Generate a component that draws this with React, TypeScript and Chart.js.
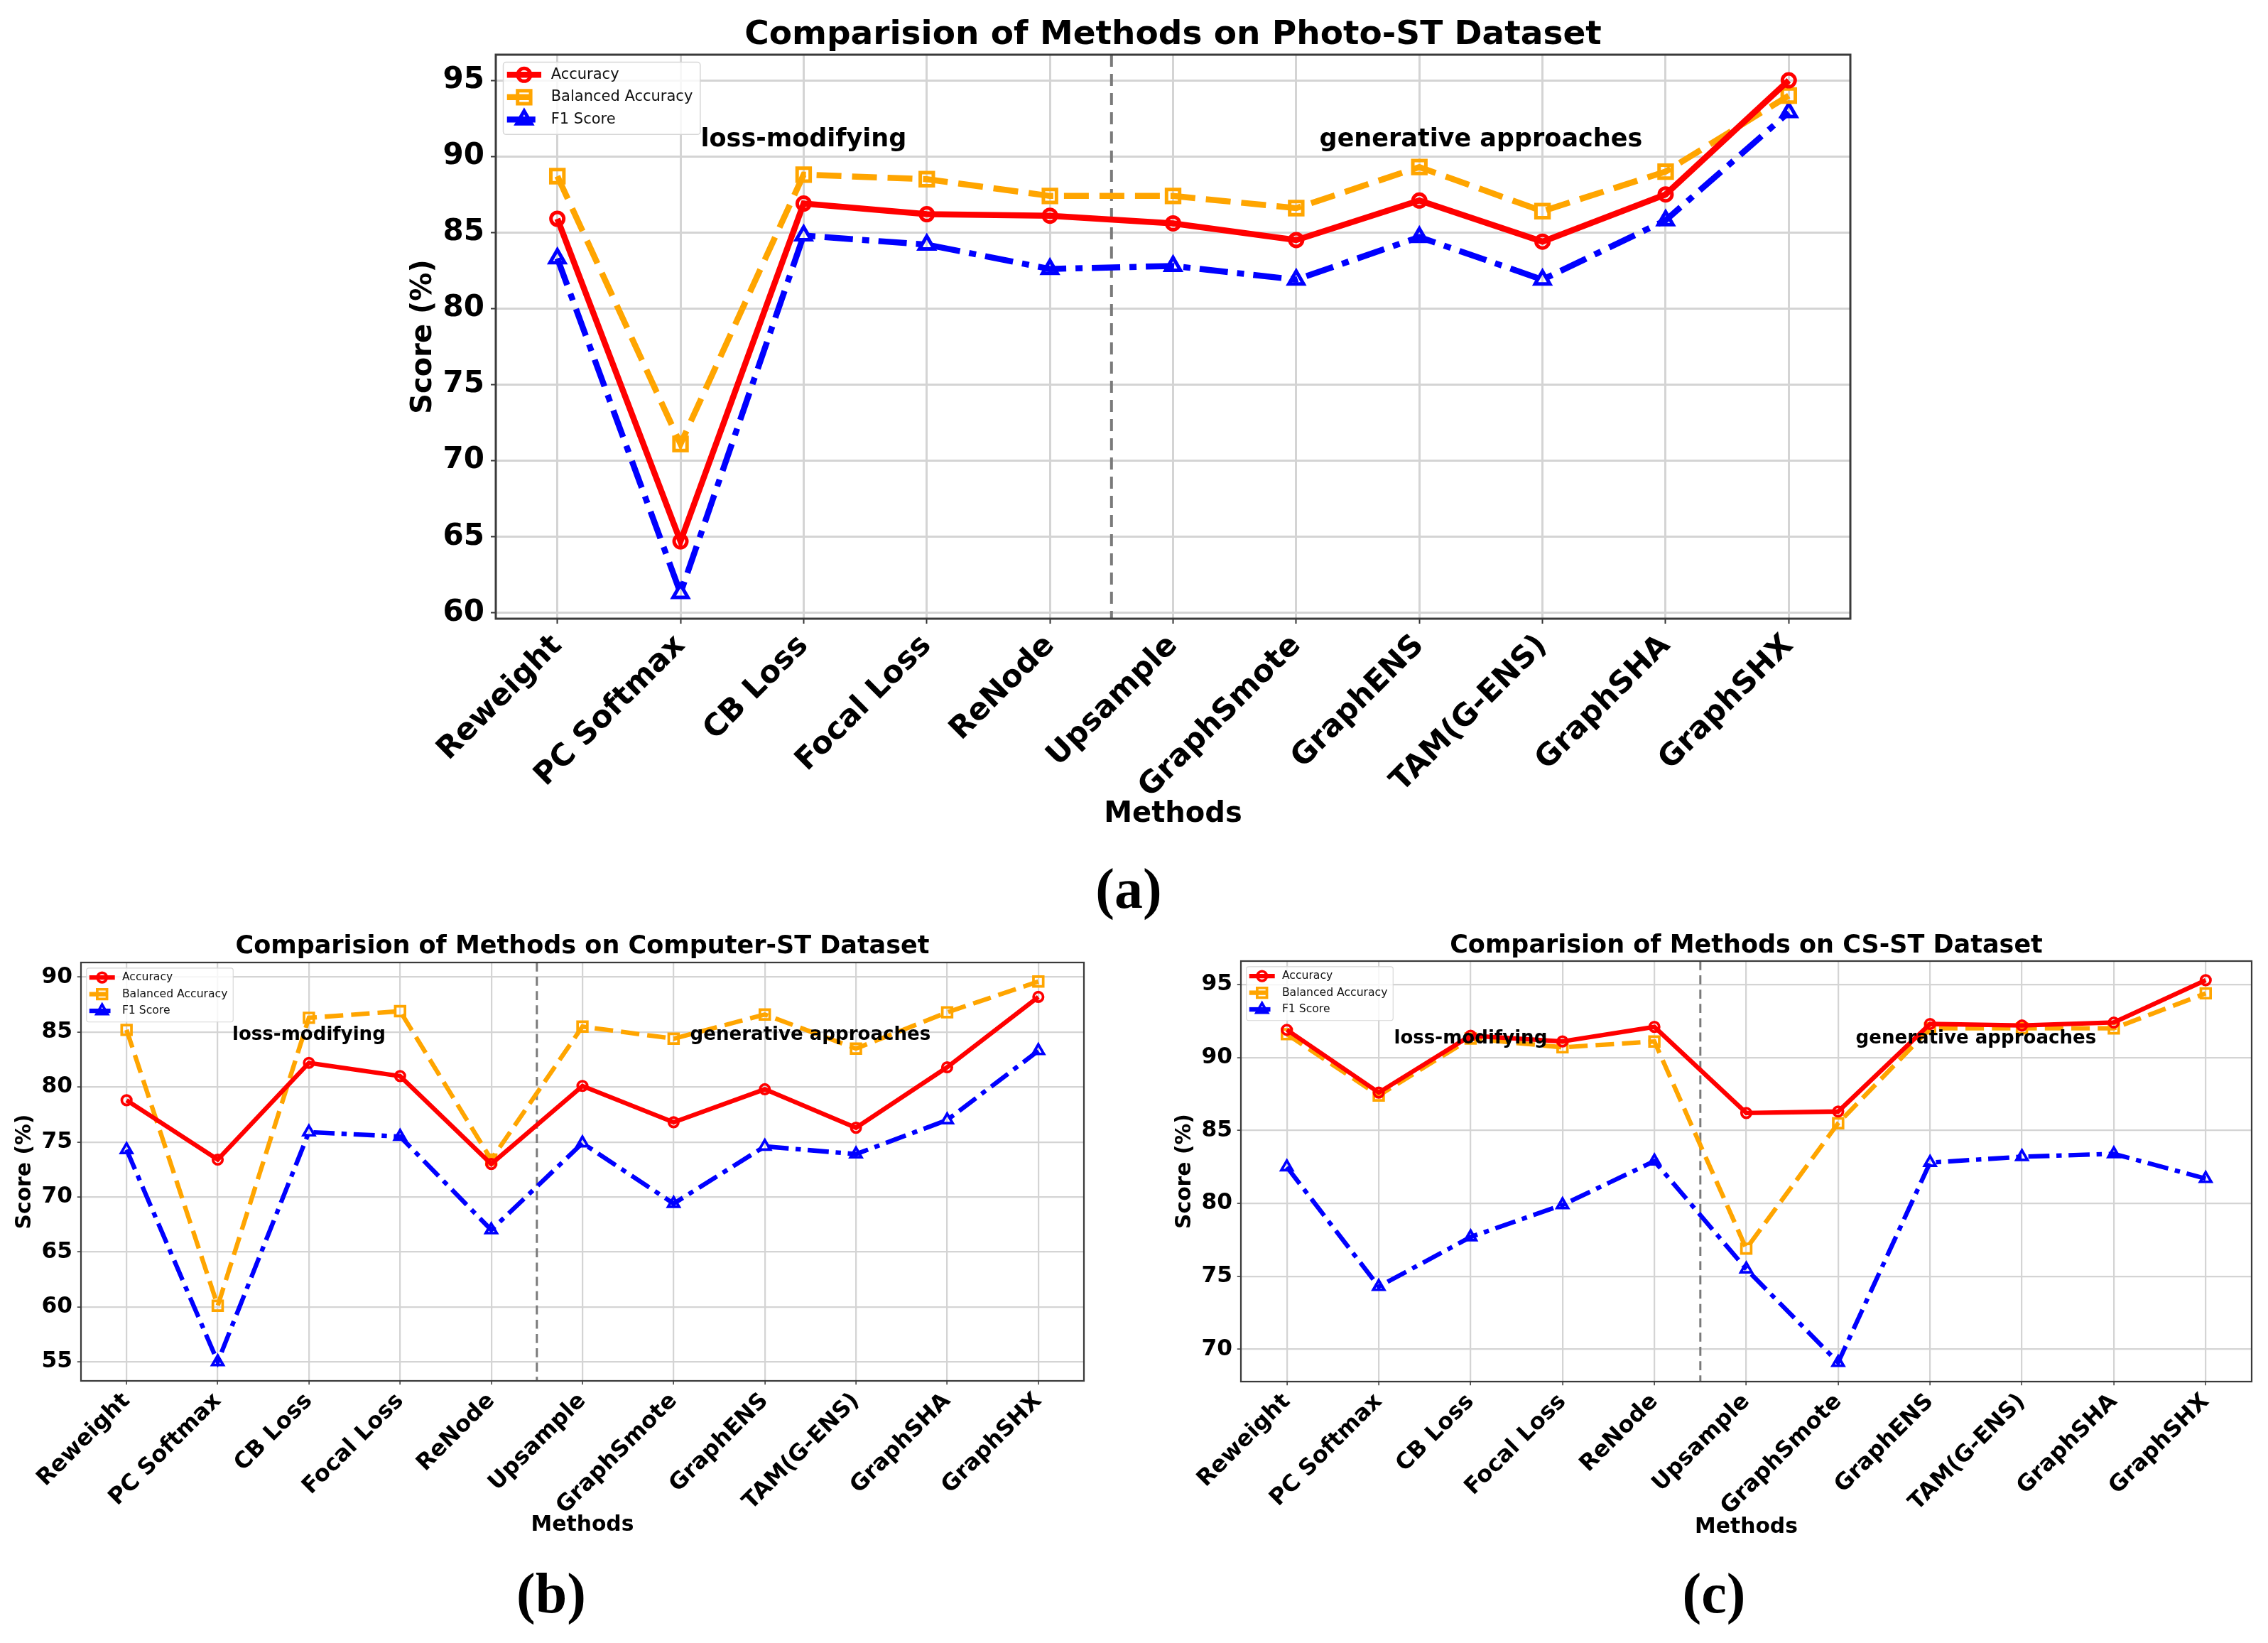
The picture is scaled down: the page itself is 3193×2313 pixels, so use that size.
import React, { useEffect, useRef } from 'react';
import { Chart, registerables } from 'chart.js';

Chart.register(...registerables);

// ---------------- data ----------------
const methods = ['Reweight', 'PC Softmax', 'CB Loss', 'Focal Loss', 'ReNode', 'Upsample', 'GraphSmote', 'GraphENS', 'TAM(G-ENS)', 'GraphSHA', 'GraphSHX'];
const seriesNames = ['Accuracy', 'Balanced Accuracy', 'F1 Score'];
const regionLabels = ['loss-modifying', 'generative approaches'];
const dividerPosition = 4.5;

const photoTicks = [60, 65, 70, 75, 80, 85, 90, 95];
const photoAccuracy = [85.9, 64.7, 86.9, 86.2, 86.1, 85.6, 84.5, 87.1, 84.4, 87.5, 95.0];
const photoBalanced = [88.7, 71.1, 88.8, 88.5, 87.4, 87.4, 86.6, 89.3, 86.4, 89.0, 94.0];
const photoF1 = [83.3, 61.3, 84.8, 84.2, 82.6, 82.8, 81.9, 84.7, 81.9, 85.8, 92.9];

const computerTicks = [55, 60, 65, 70, 75, 80, 85, 90];
const computerAccuracy = [78.8, 73.4, 82.2, 81.0, 73.0, 80.1, 76.8, 79.8, 76.3, 81.8, 88.2];
const computerBalanced = [85.2, 60.1, 86.3, 86.9, 73.4, 85.5, 84.4, 86.6, 83.5, 86.8, 89.6];
const computerF1 = [74.3, 55.0, 75.9, 75.5, 67.0, 74.9, 69.4, 74.6, 73.9, 77.0, 83.3];

const csTicks = [70, 75, 80, 85, 90, 95];
const csAccuracy = [91.9, 87.6, 91.5, 91.1, 92.1, 86.2, 86.3, 92.3, 92.2, 92.4, 95.3];
const csBalanced = [91.6, 87.4, 91.3, 90.7, 91.1, 76.9, 85.5, 92.0, 92.0, 92.0, 94.4];
const csF1 = [82.5, 74.3, 77.7, 79.9, 82.9, 75.5, 69.1, 82.8, 83.2, 83.4, 81.7];

// ---------------- styling / layout ----------------
const FONT = '"DejaVu Sans", "Noto Sans", sans-serif';

type Box = { left: number; top: number; right: number; bottom: number };
type PanelCfg = {
  title: string;
  acc: number[];
  bal: number[];
  f1: number[];
  ticks: number[];
  noteY: number;
  left: number;
  top: number;
  width: number;
  height: number;
  plot: Box;
  titleY: number;
  yTitleX: number;
  xTitleY: number;
  s: number;
};

function drawMarker(ctx: CanvasRenderingContext2D, style: string, x: number, y: number, r: number) {
  ctx.beginPath();
  if (style === 'circle') {
    ctx.arc(x, y, r, 0, Math.PI * 2);
  } else if (style === 'rect') {
    const h = Math.SQRT1_2 * r;
    ctx.rect(x - h, y - h, 2 * h, 2 * h);
  } else {
    const t = (Math.PI * 2) / 3;
    ctx.moveTo(x, y - r);
    ctx.lineTo(x + Math.sin(t) * r, y - Math.cos(t) * r);
    ctx.lineTo(x + Math.sin(2 * t) * r, y - Math.cos(2 * t) * r);
  }
  ctx.closePath();
  ctx.stroke();
}

const decor = {
  id: 'decor',
  beforeDatasetsDraw(chart: any, _args: any, o: any) {
    const { ctx, chartArea, scales } = chart;
    const x = scales.x.getPixelForValue(o.divider);
    ctx.save();
    ctx.strokeStyle = '#7a7a7a';
    ctx.lineWidth = o.dividerWidth;
    ctx.setLineDash(o.dividerDash);
    ctx.beginPath();
    ctx.moveTo(x, chartArea.top);
    ctx.lineTo(x, chartArea.bottom);
    ctx.stroke();
    ctx.restore();
  },
  afterDatasetsDraw(chart: any, _args: any, o: any) {
    const { ctx, scales } = chart;
    ctx.save();
    ctx.fillStyle = '#000';
    ctx.font = `bold ${o.noteSize}px ${FONT}`;
    ctx.textAlign = 'center';
    ctx.textBaseline = 'middle';
    o.notes.forEach((n: any) => {
      ctx.fillText(n.text, scales.x.getPixelForValue(n.x), scales.y.getPixelForValue(n.y));
    });
    ctx.restore();
  },
  afterDraw(chart: any, _args: any, o: any) {
    const { ctx, chartArea } = chart;
    const ca = chartArea;
    ctx.save();
    // frame
    ctx.strokeStyle = '#3a3a3a';
    ctx.lineWidth = o.frameWidth;
    ctx.strokeRect(ca.left, ca.top, ca.right - ca.left, ca.bottom - ca.top);
    // title
    ctx.fillStyle = '#000';
    ctx.font = `bold ${o.titleSize}px ${FONT}`;
    ctx.textAlign = 'center';
    ctx.textBaseline = 'middle';
    ctx.fillText(o.title, (ca.left + ca.right) / 2, o.titleY);
    // legend
    const fs = o.legendSize;
    ctx.font = `${fs}px ${FONT}`;
    const ds = chart.data.datasets;
    let maxW = 0;
    ds.forEach((d: any) => { maxW = Math.max(maxW, ctx.measureText(d.label).width); });
    const x0 = ca.left + 0.5 * fs;
    const y0 = ca.top + 0.5 * fs;
    const w = 3.2 * fs + maxW + 0.5 * fs;
    const h = 0.85 * fs + 3.0 * fs + 1.0 * fs;
    const rr = 0.2 * fs;
    ctx.beginPath();
    ctx.moveTo(x0 + rr, y0);
    ctx.arcTo(x0 + w, y0, x0 + w, y0 + h, rr);
    ctx.arcTo(x0 + w, y0 + h, x0, y0 + h, rr);
    ctx.arcTo(x0, y0 + h, x0, y0, rr);
    ctx.arcTo(x0, y0, x0 + w, y0, rr);
    ctx.closePath();
    ctx.fillStyle = 'rgba(255,255,255,0.8)';
    ctx.fill();
    ctx.strokeStyle = '#d6d6d6';
    ctx.lineWidth = Math.max(1, 1.5 * o.s);
    ctx.stroke();
    ds.forEach((d: any, i: number) => {
      const cy = y0 + 0.85 * fs + i * 1.5 * fs;
      const hx0 = x0 + 0.25 * fs;
      const hx1 = x0 + 2.55 * fs;
      ctx.save();
      ctx.strokeStyle = d.borderColor;
      ctx.lineWidth = d.borderWidth;
      ctx.lineCap = 'butt';
      ctx.setLineDash(d.borderDash || []);
      ctx.beginPath();
      ctx.moveTo(hx0, cy);
      ctx.lineTo(hx1, cy);
      ctx.stroke();
      ctx.setLineDash([]);
      ctx.lineWidth = d.pointBorderWidth;
      drawMarker(ctx, d.pointStyle, (hx0 + hx1) / 2, cy, d.pointRadius);
      ctx.restore();
      ctx.fillStyle = '#111';
      ctx.textAlign = 'left';
      ctx.textBaseline = 'middle';
      ctx.fillText(d.label, x0 + 3.2 * fs, cy);
    });
    ctx.restore();
  },
};

function Panel({ cfg }: { cfg: PanelCfg }) {
  const ref = useRef<HTMLCanvasElement>(null);
  useEffect(() => {
    const canvas = ref.current;
    if (!canvas) return;
    const s = cfg.s;
    const all = [...cfg.acc, ...cfg.bal, ...cfg.f1];
    const lo = Math.min(...all);
    const hi = Math.max(...all);
    const m = (hi - lo) * 0.05;
    const lw = 8.5 * s;
    const axisSize = 40 * s;
    const xTickSize = 43 * s;
    const yTickSize = 42 * s;
    const chart = new Chart(canvas, {
      type: 'line',
      data: {
        labels: methods,
        datasets: [
          {
            label: seriesNames[0], data: cfg.acc, borderColor: '#ff0000', borderWidth: lw,
            pointStyle: 'circle', pointRadius: 9 * s, pointBorderWidth: 5 * s,
            pointBackgroundColor: 'rgba(0,0,0,0)', pointBorderColor: '#ff0000', tension: 0,
          },
          {
            label: seriesNames[1], data: cfg.bal, borderColor: '#ffa500', borderWidth: lw,
            borderDash: [35 * s, 15 * s],
            pointStyle: 'rect', pointRadius: 13 * s, pointBorderWidth: 5 * s,
            pointBackgroundColor: 'rgba(0,0,0,0)', pointBorderColor: '#ffa500', tension: 0,
          },
          {
            label: seriesNames[2], data: cfg.f1, borderColor: '#0000ff', borderWidth: lw,
            borderDash: [40 * s, 13 * s, 10 * s, 13 * s],
            pointStyle: 'triangle', pointRadius: 12 * s, pointBorderWidth: 5 * s,
            pointBackgroundColor: 'rgba(0,0,0,0)', pointBorderColor: '#0000ff', tension: 0,
          },
        ] as any,
      },
      options: {
        responsive: false,
        animation: false,
        devicePixelRatio: 1,
        layout: { padding: { left: 0, top: cfg.plot.top, right: cfg.width - cfg.plot.right, bottom: 0 } },
        plugins: {
          legend: { display: false },
          tooltip: { enabled: false },
          title: { display: false },
          decor: {
            title: cfg.title, titleY: cfg.titleY, titleSize: 47 * s,
            divider: dividerPosition, dividerWidth: 4 * s, dividerDash: [17 * s, 10 * s],
            notes: [
              { text: regionLabels[0], x: 2, y: cfg.noteY },
              { text: regionLabels[1], x: 7.5, y: cfg.noteY },
            ],
            noteSize: 35 * s, legendSize: 21 * s, frameWidth: 3 * s, s,
          },
        } as any,
        scales: {
          x: {
            type: 'category',
            offset: true,
            border: { display: false },
            grid: { color: '#d4d4d4', lineWidth: 3 * s, drawTicks: true, tickLength: 7 * s, tickColor: '#333', tickWidth: 2 * s },
            ticks: {
              autoSkip: false, minRotation: 45, maxRotation: 45, color: '#000', padding: 6 * s,
              font: { family: FONT, size: xTickSize, weight: 'bold' },
            },
            title: {
              display: true, text: 'Methods', color: '#000',
              font: { family: FONT, size: axisSize, weight: 'bold' },
              padding: { top: 0, bottom: cfg.height - cfg.xTitleY - axisSize * 0.6 },
            },
            afterFit: (sc: any) => { sc.height = cfg.height - cfg.plot.bottom; },
          },
          y: {
            type: 'linear',
            min: lo - m,
            max: hi + m,
            border: { display: false },
            grid: { color: '#d4d4d4', lineWidth: 3 * s, drawTicks: true, tickLength: 7 * s, tickColor: '#333', tickWidth: 2 * s },
            ticks: {
              color: '#000', padding: 9 * s,
              font: { family: FONT, size: yTickSize, weight: 'bold' },
            },
            afterBuildTicks: (sc: any) => { sc.ticks = cfg.ticks.map((v) => ({ value: v })); },
            title: {
              display: true, text: 'Score (%)', color: '#000',
              font: { family: FONT, size: axisSize, weight: 'bold' },
              padding: { top: cfg.yTitleX - axisSize * 0.6, bottom: 0 },
            },
            afterFit: (sc: any) => { sc.width = cfg.plot.left; },
          },
        } as any,
      },
      plugins: [decor as any],
    });
    return () => chart.destroy();
  }, [cfg]);
  return (
    <canvas
      ref={ref}
      width={cfg.width}
      height={cfg.height}
      style={{ position: 'absolute', left: cfg.left, top: cfg.top, width: cfg.width, height: cfg.height }}
    />
  );
}

const panelA: PanelCfg = {
  title: 'Comparision of Methods on Photo-ST Dataset',
  acc: photoAccuracy, bal: photoBalanced, f1: photoF1, ticks: photoTicks, noteY: 91.1,
  left: 480, top: 0, width: 2180, height: 1230,
  plot: { left: 218, top: 77, right: 2125, bottom: 871 },
  titleY: 50, yTitleX: 117, xTitleY: 1147, s: 1,
};
const panelB: PanelCfg = {
  title: 'Comparision of Methods on Computer-ST Dataset',
  acc: computerAccuracy, bal: computerBalanced, f1: computerF1, ticks: computerTicks, noteY: 84.7,
  left: 0, top: 1290, width: 1560, height: 960,
  plot: { left: 114, top: 65, right: 1526, bottom: 654 },
  titleY: 43, yTitleX: 35, xTitleY: 857, s: 0.745,
};
const panelC: PanelCfg = {
  title: 'Comparision of Methods on CS-ST Dataset',
  acc: csAccuracy, bal: csBalanced, f1: csF1, ticks: csTicks, noteY: 91.3,
  left: 1600, top: 1290, width: 1593, height: 960,
  plot: { left: 147, top: 63, right: 1570, bottom: 655 },
  titleY: 42, yTitleX: 68, xTitleY: 860, s: 0.745,
};

const captionStyle = (x: number, y: number): React.CSSProperties => ({
  position: 'absolute', left: x, top: y, transform: 'translate(-50%, -50%)',
  fontFamily: '"Liberation Serif", "Times New Roman", serif', fontSize: 80, fontWeight: 'bold',
  lineHeight: 1, color: '#000', whiteSpace: 'nowrap',
});

export default function App() {
  return (
    <div style={{ position: 'absolute', left: 0, top: 0, width: 3193, height: 2313, background: '#fff', overflow: 'hidden' }}>
      <Panel cfg={panelA} />
      <Panel cfg={panelB} />
      <Panel cfg={panelC} />
      <div style={captionStyle(1589, 1251)}>(a)</div>
      <div style={captionStyle(776, 2243)}>(b)</div>
      <div style={captionStyle(2413, 2243)}>(c)</div>
    </div>
  );
}
